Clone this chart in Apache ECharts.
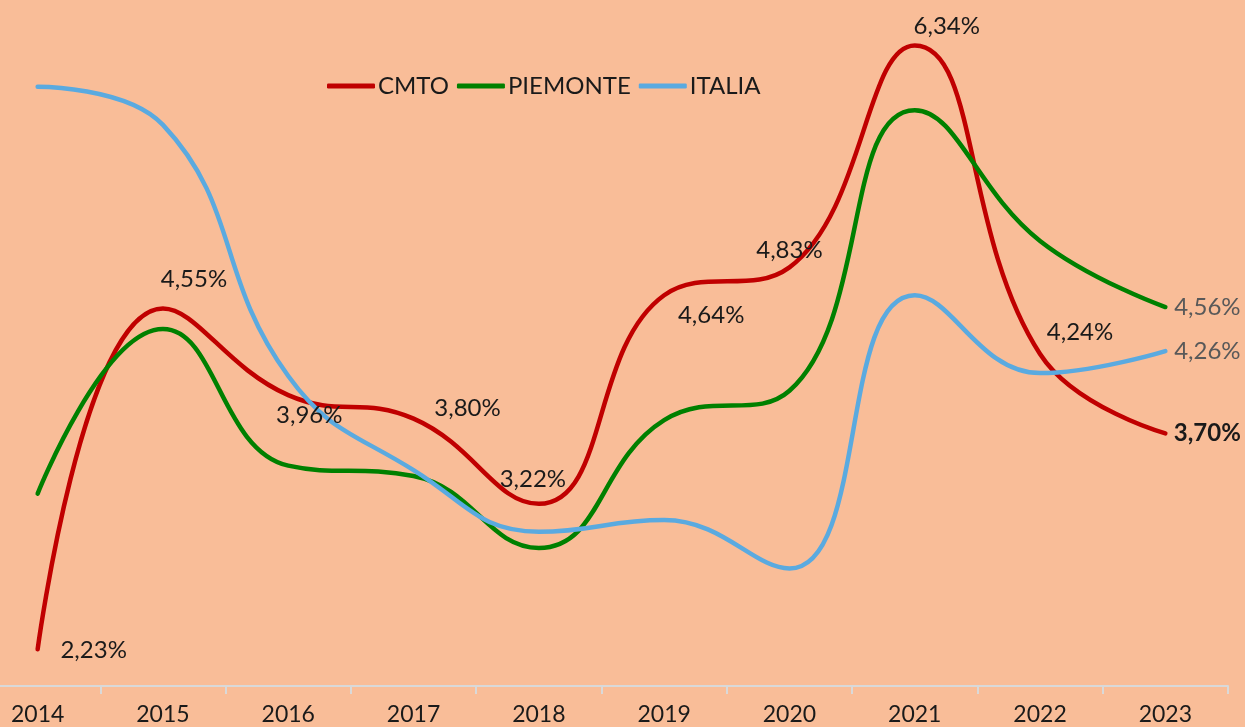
<!DOCTYPE html>
<html>
<head>
<meta charset="utf-8">
<script src="https://cdn.jsdelivr.net/npm/echarts@6/dist/echarts.min.js"></script>
<style>
  html, body { margin: 0; padding: 0; background: #F9BD98; overflow: hidden; }
  #chart { width: 1270px; height: 727px; margin-left: -25px; }
</style>
</head>
<body>
<div id="chart"></div>
<script>
// 年份
const years = ['2014', '2015', '2016', '2017', '2018', '2019', '2020', '2021', '2022', '2023'];
// 数据（%）
const cmto = [2.23, 4.55, 3.96, 3.80, 3.22, 4.64, 4.83, 6.34, 4.24, 3.70];
const piemonte = [3.29, 4.41, 3.48, 3.41, 2.92, 3.79, 3.99, 5.90, 5.01, 4.56];
const italia = [6.06, 5.80, 4.09, 3.45, 3.03, 3.11, 2.78, 4.64, 4.11, 4.26];

// label offsets for CMTO points (px from point to label centre)
const cmtoLabelOffset = [[56, 1], [31, -29], [21, 20], [54, -10], [-6, -25],
                         [47, 20], [0, -17], [32, -19], [40, -22], [42, 0]];

const fmt = v => v.toFixed(2).replace('.', ',') + '%';
const FONT = 'Lato';

const chart = echarts.init(document.getElementById('chart'));

function lastOnly(values, color) {
    return values.map((v, i) => {
        if (i !== values.length - 1) return { value: v, label: { show: false } };
        return {
            value: v,
            label: { show: true, position: 'inside', offset: [42, 0], color: color }
        };
    });
}

const cmtoData = cmto.map((v, i) => {
    const last = i === cmto.length - 1;
    return {
        value: v,
        label: {
            show: true, position: 'inside', offset: cmtoLabelOffset[i],
            fontWeight: last ? 'bold' : 'normal'
        }
    };
});

function lineSeries(name, data, color) {
    return {
        name: name,
        type: 'line',
        data: data,
        smooth: 0.45,
        symbol: 'circle',
        symbolSize: 1,
        itemStyle: { color: 'rgba(0,0,0,0)' },
        lineStyle: { color: color, width: 4.5, cap: 'round' },
        label: {
            fontFamily: FONT,
            fontSize: 24,
            color: '#1a1a1a',
            formatter: p => fmt(p.value)
        },
        emphasis: { disabled: true },
        animation: false
    };
}

const option = {
    backgroundColor: '#F9BD98',
    textStyle: { fontFamily: FONT },
    legend: {
        left: 347,
        top: 69,
        itemGap: 8,
        itemWidth: 48,
        itemHeight: 5,
        icon: 'roundRect',
        textStyle: { fontFamily: FONT, fontSize: 24, color: '#1a1a1a', padding: [0, 0, 0, -2] },
        data: [
            { name: 'CMTO', itemStyle: { color: '#C00000', opacity: 1 } },
            { name: 'PIEMONTE', itemStyle: { color: '#008000', opacity: 1 } },
            { name: 'ITALIA', itemStyle: { color: '#5AAAE0', opacity: 1 } }
        ]
    },
    grid: { left: 0, right: 17, top: 0, bottom: 41 },
    xAxis: {
        type: 'category',
        data: years,
        boundaryGap: true,
        axisLine: { onZero: false, lineStyle: { color: '#D9D9D9', width: 2 } },
        axisTick: { show: true, length: 8, lineStyle: { color: '#D9D9D9', width: 2 } },
        axisLabel: { fontFamily: FONT, fontSize: 23, color: '#1a1a1a', margin: 17 }
    },
    yAxis: {
        type: 'value',
        min: 1.98,
        max: 6.65,
        show: false,
        splitLine: { show: false }
    },
    series: [
        lineSeries('CMTO', cmtoData, '#C00000'),
        lineSeries('PIEMONTE', lastOnly(piemonte, '#595959'), '#008000'),
        lineSeries('ITALIA', lastOnly(italia, '#595959'), '#5AAAE0')
    ]
};

chart.setOption(option);
</script>
</body>
</html>
